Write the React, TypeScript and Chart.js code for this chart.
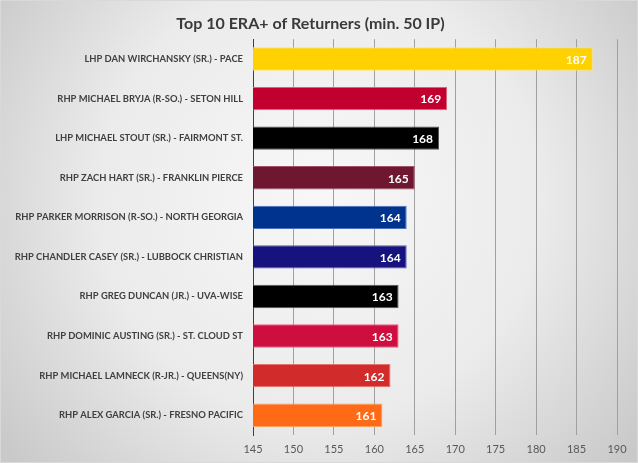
import React, { useEffect, useRef } from "react";
import { Chart, registerables } from "chart.js";

Chart.register(...registerables);

const titleText = "Top 10 ERA+ of Returners (min. 50 IP)";
const players = [
  "LHP DAN WIRCHANSKY (SR.) - PACE",
  "RHP MICHAEL BRYJA (R-SO.) - SETON HILL",
  "LHP MICHAEL STOUT (SR.) - FAIRMONT ST.",
  "RHP ZACH HART (SR.) - FRANKLIN PIERCE",
  "RHP PARKER MORRISON (R-SO.) - NORTH GEORGIA",
  "RHP CHANDLER CASEY (SR.) - LUBBOCK CHRISTIAN",
  "RHP GREG DUNCAN (JR.) - UVA-WISE",
  "RHP DOMINIC AUSTING (SR.) - ST. CLOUD ST",
  "RHP MICHAEL LAMNECK (R-JR.) - QUEENS(NY)",
  "RHP ALEX GARCIA (SR.) - FRESNO PACIFIC",
];
const eraPlus = [187, 169, 168, 165, 164, 164, 163, 163, 162, 161];
const barColors = [
  "#FFD100",
  "#C1002F",
  "#000000",
  "#6F1731",
  "#00338D",
  "#16137F",
  "#000000",
  "#CE0E3E",
  "#D22B2B",
  "#FF6A16",
];
const borderColors = [
  "#FFE566",
  "#E0607A",
  "#555555",
  "#A05068",
  "#4A70C0",
  "#5A58B8",
  "#555555",
  "#E86080",
  "#E87070",
  "#FFA060",
];
const xMin = 145;
const xMax = 190;
const xStep = 5;

const bgPlugin = {
  id: "bgGradient",
  beforeDraw(chart: any) {
    const { ctx, width, height } = chart;
    ctx.save();
    const g = ctx.createRadialGradient(width * 0.5, height * 0.4, 10, width * 0.5, height * 0.45, width * 0.62);
    g.addColorStop(0, "#f7f7f7");
    g.addColorStop(0.55, "#ebebeb");
    g.addColorStop(1, "#c9c9c9");
    ctx.fillStyle = g;
    ctx.fillRect(0, 0, width, height);
    ctx.strokeStyle = "#d9d9d9";
    ctx.lineWidth = 1;
    ctx.strokeRect(0.5, 0.5, width - 1, height - 1);
    ctx.restore();
  },
};

const labelPlugin = {
  id: "barValues",
  afterDatasetsDraw(chart: any) {
    const { ctx } = chart;
    const meta = chart.getDatasetMeta(0);
    ctx.save();
    ctx.font = "bold 12px Lato";
    ctx.fillStyle = "#ffffff";
    ctx.textAlign = "right";
    ctx.textBaseline = "middle";
    meta.data.forEach((bar: any, i: number) => {
      ctx.fillText(String(eraPlus[i]), bar.x - 6, bar.y + 1);
    });
    ctx.restore();
  },
};

export default function App() {
  const ref = useRef<HTMLCanvasElement>(null);
  useEffect(() => {
    document.body.style.margin = "0";
    const chart = new Chart(ref.current!, {
      type: "bar",
      data: {
        labels: players,
        datasets: [
          {
            data: eraPlus,
            backgroundColor: barColors,
            borderColor: borderColors,
            borderWidth: 1,
            categoryPercentage: 1,
            barPercentage: 0.59,
          },
        ],
      },
      options: {
        indexAxis: "y",
        animation: false,
        responsive: false,
        devicePixelRatio: 1,
        layout: { padding: { top: 4, right: 21, bottom: 0, left: 4 } },
        plugins: {
          legend: { display: false },
          tooltip: { enabled: false },
          title: {
            display: true,
            text: titleText,
            color: "#3a3a3a",
            font: { family: "Lato", size: 16, weight: "bold" },
            padding: { top: 10, bottom: 6 },
          },
        },
        scales: {
          x: {
            min: xMin,
            max: xMax,
            ticks: { stepSize: xStep, color: "#595959", font: { family: "Lato", size: 11 }, padding: 8 },
            grid: { color: "#a0a0a0", drawTicks: false },
            border: { display: false },
            afterFit(scale: any) {
              scale.height = 28;
            },
          },
          y: {
            ticks: { color: "#404040", font: { family: "Lato", size: 9.4, weight: "bold" }, padding: 10 },
            grid: { display: false, drawTicks: false },
            border: { display: true, color: "#404040", width: 1 },
            afterFit(scale: any) {
              scale.width = 249;
            },
          },
        },
      },
      plugins: [bgPlugin, labelPlugin],
    });
    return () => chart.destroy();
  }, []);
  return <canvas ref={ref} width={638} height={463} style={{ display: "block" }} />;
}
